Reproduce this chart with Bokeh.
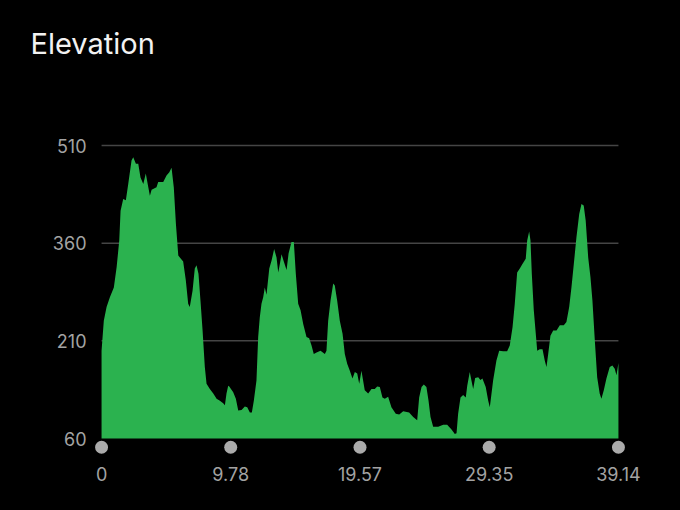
from bokeh.plotting import figure
from bokeh.models import Range1d, FixedTicker, ColumnDataSource, Title
from bokeh.embed import file_html
from bokeh.resources import INLINE

# ---- data ----
distance_km = [
    0.00, 0.17, 0.38, 0.63, 0.93, 1.14, 1.34, 1.44, 1.64, 1.84, 2.02, 2.27, 2.40, 2.60, 2.78,
    2.95, 3.16, 3.35, 3.54, 3.66, 3.79, 4.16, 4.29, 4.67, 4.92, 5.13, 5.30, 5.47, 5.63, 5.81,
    5.93, 6.18, 6.38, 6.56, 6.68, 6.89, 7.06, 7.19, 7.34, 7.49, 7.65, 7.82, 7.95, 8.20, 8.46,
    8.71, 8.96, 9.21, 9.34, 9.46, 9.59, 9.67, 9.97, 10.17, 10.35, 10.60, 10.85, 11.03, 11.23,
    11.38, 11.53, 11.73, 11.86, 11.98, 12.11, 12.24, 12.36, 12.49, 12.70, 12.87, 13.07, 13.25,
    13.38, 13.50, 13.63, 13.80, 14.01, 14.16, 14.38, 14.56, 14.71, 14.89, 15.07, 15.27, 15.52,
    15.72, 15.90, 16.07, 16.28, 16.58, 16.91, 17.03, 17.16, 17.34, 17.54, 17.66, 17.84, 18.04,
    18.25, 18.42, 18.60, 18.80, 19.00, 19.18, 19.36, 19.51, 19.68, 19.93, 20.19, 20.44, 20.69,
    20.87, 21.07, 21.27, 21.45, 21.70, 21.95, 22.28, 22.54, 22.84, 23.29, 23.60, 23.90, 24.05,
    24.23, 24.40, 24.60, 24.76, 24.91, 25.11, 25.49, 25.87, 26.17, 26.50, 26.75, 26.88, 27.00,
    27.18, 27.38, 27.58, 27.69, 27.88, 28.01, 28.14, 28.29, 28.52, 28.69, 28.84, 29.09, 29.28,
    29.40, 29.65, 29.90, 30.11, 30.41, 30.71, 30.91, 31.12, 31.29, 31.47, 31.67, 31.87, 32.12,
    32.23, 32.38, 32.48, 32.58, 32.73, 32.88, 32.99, 33.18, 33.39, 33.56, 33.69, 33.82, 33.99,
    34.20, 34.45, 34.70, 35.00, 35.20, 35.41, 35.58, 35.76, 35.96, 36.17, 36.34, 36.51, 36.66,
    36.85, 37.02, 37.17, 37.35, 37.53, 37.72, 37.85, 38.03, 38.23, 38.48, 38.68, 38.86, 38.99,
    39.14,
]
elevation_m = [
    195, 241, 262, 277, 292, 323, 364, 410, 428, 426, 451, 487, 492, 482, 482,
    461, 451, 467, 446, 433, 442, 446, 454, 454, 464, 469, 476, 446, 390, 341,
    338, 332, 303, 267, 262, 287, 321, 326, 313, 272, 226, 170, 144, 136, 129,
    121, 118, 114, 111, 129, 141, 140, 131, 121, 103, 104, 109, 108, 100,
    100, 118, 149, 216, 246, 267, 277, 292, 281, 321, 333, 351, 338,
    315, 328, 343, 332, 319, 344, 362, 362, 313, 267, 257, 236, 216,
    214, 203, 190, 192, 195, 190, 195, 241, 272, 298, 295, 272, 241,
    221, 190, 175, 164, 152, 162, 160, 144, 164, 134, 129, 136, 136,
    140, 139, 123, 121, 124, 108, 98, 97, 102, 100, 93, 88, 123,
    139, 143, 139, 118, 93, 78, 78, 81, 81, 74, 67, 68, 98,
    123, 127, 123, 141, 162, 149, 136, 153, 154, 150, 152, 139, 118,
    108, 149, 180, 195, 194, 194, 203, 231, 267, 315, 321, 328, 336,
    364, 378, 364, 313, 257, 221, 195, 197, 197, 180, 170, 190, 218,
    226, 226, 234, 234, 239, 262, 292, 328, 369, 405, 420, 418, 395,
    338, 308, 272, 211, 154, 129, 121, 134, 152, 170, 172, 167, 157,
    176,
]
y_ticks = [60, 210, 360, 510]
x_ticks = [0, 9.78, 19.57, 29.35, 39.14]
x_tick_labels = ["0", "9.78", "19.57", "29.35", "39.14"]
title_text = "Elevation"

# ---- styling constants ----
BASE = y_ticks[0]
Y_END = 513.1           # a little headroom so the top grid line is not clipped
Y_START = 32.4          # extra room below baseline for the marker dots
DOT_Y = 46.6            # dot row just below the baseline
X_PAD = 0.61            # horizontal room so end dots are not clipped
GREEN = "#2bb24f"
FONT = "Inter"

p = figure(width=680, height=510, output_backend="svg", toolbar_location=None,
           x_range=Range1d(x_ticks[0] - X_PAD, x_ticks[-1] + X_PAD),
           y_range=Range1d(Y_START, Y_END),
           min_border_left=93, min_border_right=54, min_border_top=143, min_border_bottom=54)

p.background_fill_color = "black"
p.border_fill_color = "black"
p.outline_line_color = None
p.outline_line_alpha = 0

# horizontal grid lines spanning exactly the data extent
grid_y = y_ticks[1:]
p.segment(x0=[x_ticks[0]] * len(grid_y), x1=[x_ticks[-1]] * len(grid_y),
          y0=grid_y, y1=grid_y, line_color="#454545", line_width=1.5)

src = ColumnDataSource(dict(x=distance_km, y=elevation_m, base=[BASE] * len(distance_km)))
p.varea(x="x", y1="base", y2="y", source=src, fill_color=GREEN, fill_alpha=1.0)

p.scatter(x=x_ticks, y=[DOT_Y] * len(x_ticks), size=13, marker="circle",
          fill_color="#ababab", line_color=None)

# axes
p.yaxis.ticker = FixedTicker(ticks=y_ticks)
p.xaxis.ticker = FixedTicker(ticks=x_ticks)
p.xaxis.major_label_overrides = {t: l for t, l in zip(x_ticks, x_tick_labels)}
for ax in (p.xaxis, p.yaxis):
    ax.axis_line_color = None
    ax.major_tick_line_color = None
    ax.minor_tick_line_color = None
    ax.major_label_text_color = "#a3a3a3"
    ax.major_label_text_font = FONT
    ax.major_label_text_font_size = "18px"
p.yaxis.major_label_standoff = 1
p.xaxis.major_label_standoff = 4
p.xgrid.grid_line_color = None
p.ygrid.grid_line_color = None

# real title (outer panel) and an invisible spacer between it and the frame
p.title.text = title_text
p.title.text_color = "#f2f2f2"
p.title.text_font = FONT
p.title.text_font_size = "29px"
p.title.text_font_style = "normal"
p.title.align = "left"
p.title.offset = -63
p.title.standoff = 0
p.add_layout(Title(text=" ", text_font_size="1px", standoff=80), "above")

html = file_html(p, INLINE)
html = html.replace("</head>", "<style>html, body { background-color: #000000; }</style></head>", 1)
open("out.html", "w").write(html)
